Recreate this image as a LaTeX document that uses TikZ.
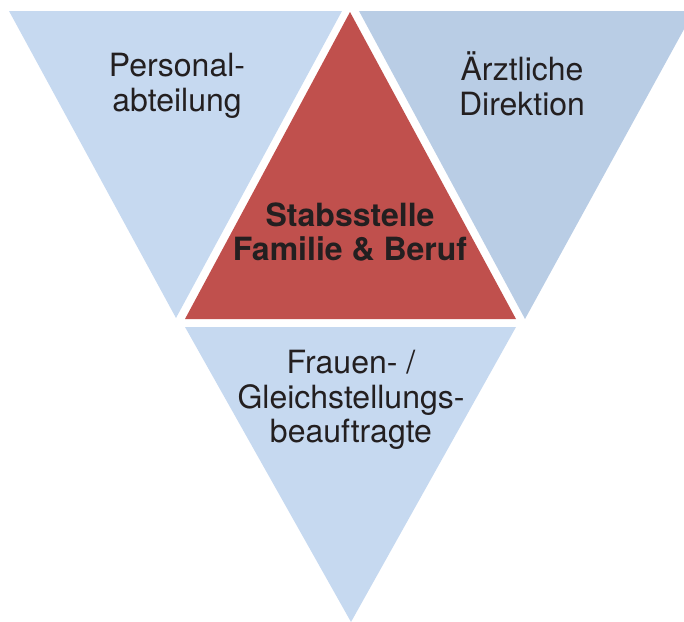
\documentclass[tikz,border=0pt]{standalone}
\usepackage{fontspec}
\setmainfont{TeX Gyre Heros}
\usetikzlibrary{calc}

\definecolor{paleblue}{HTML}{C6D9F0}
\definecolor{greyblue}{HTML}{B9CDE5}
\definecolor{brickred}{HTML}{C0504D}
\definecolor{inkgrey}{HTML}{231F20}

\tikzset{
  label text/.style={align=center, text=inkgrey, font=\fontsize{32}{34.5}\selectfont},
  label bold/.style={label text, font=\fontsize{32}{33.5}\selectfont\bfseries}
}

\begin{document}
\begin{tikzpicture}[x=1pt, y=-1pt]
			%%%%% START %%%%%
			\useasboundingbox (0, 0) rectangle (684, 621);
			\clip (0, 0) rectangle (684, 621);
			
			% left: Personalabteilung
			\fill[paleblue] (9, 11) -- (342, 11) -- (176, 318) -- cycle;
			
			% right: Aerztliche Direktion
			\fill[greyblue] (359, 11) -- (694, 11) -- (525, 319) -- cycle;
			
			% middle: Stabsstelle
			\fill[brickred] (350, 12) -- (516, 319) -- (185, 319) -- cycle;
			
			% bottom: Frauenbeauftragte
			\fill[paleblue] (185, 327) -- (516, 327) -- (351, 622) -- cycle;
			
			\node[label text] (personal) at (177, 86) {Personal-\\abteilung};
			\node[label text] (direktion) at (522, 84) {Ärztliche\\Direktion};
			\node[label bold] (stab) at (350, 232) {Stabsstelle\\Familie \& Beruf};
			\node[label text] (frauen) at (351, 400) {Frauen- /\\Gleichstellungs-\\beauftragte};
			
			%%%%% END %%%%%
		\end{tikzpicture}
\end{document}
